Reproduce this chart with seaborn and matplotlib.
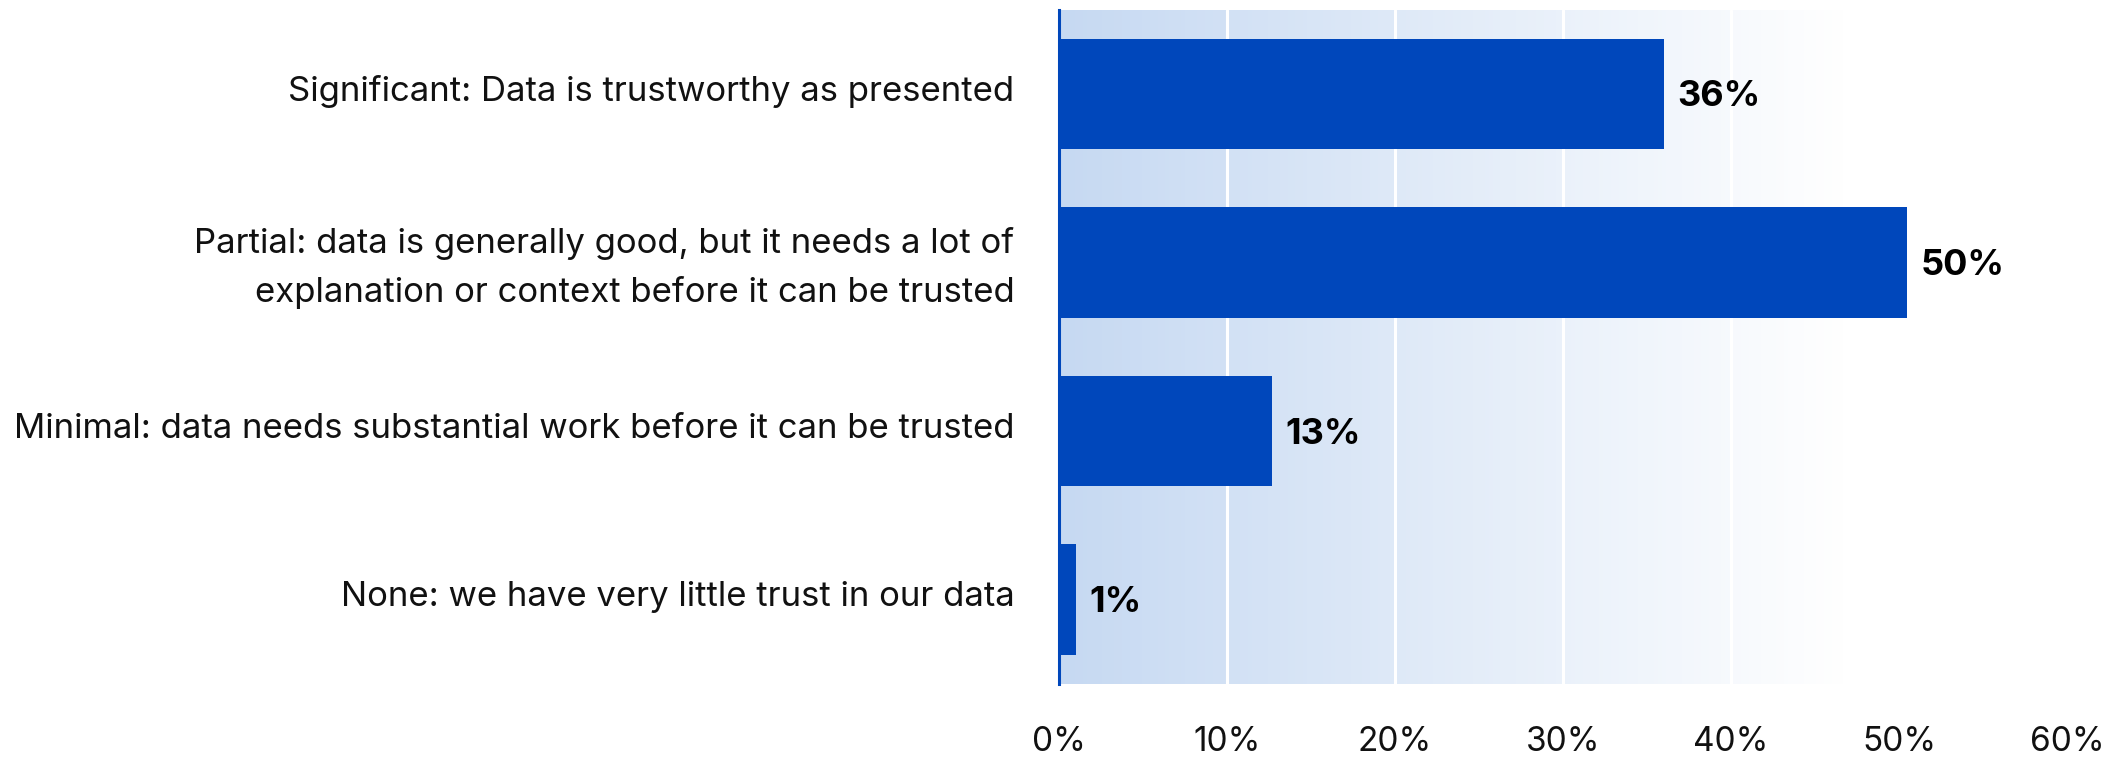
import numpy as np
import pandas as pd
import matplotlib
matplotlib.use('Agg')
import matplotlib.pyplot as plt
import matplotlib.transforms as mtransforms
from matplotlib.colors import LinearSegmentedColormap
import seaborn as sns

# 数据
categories = [
    'Significant: Data is trustworthy as presented',
    'Partial: data is generally good, but it needs a lot of\nexplanation or context before it can be trusted',
    'Minimal: data needs substantial work before it can be trusted',
    'None: we have very little trust in our data',
]
values = [36.0, 50.5, 12.7, 1.0]
value_labels = ['36%', '50%', '13%', '1%']
x_ticks = [0, 10, 20, 30, 40, 50, 60]
x_tick_labels = ['0%', '10%', '20%', '30%', '40%', '50%', '60%']

sns.set_theme(style='white')
plt.rcParams['font.family'] = ['Inter', 'DejaVu Sans']

bar_color = '#0047BB'
df = pd.DataFrame({'category': categories, 'value': values})

fig = plt.figure(figsize=(21.2, 7.62), dpi=100)
ax = fig.add_axes([0.4995, 0.1024, 0.4755, 0.8851])

# 背景渐变
grad_cmap = LinearSegmentedColormap.from_list(
    'bg', [(0, '#c6d9f2'), (0.78, '#ffffff'), (1, '#ffffff')])
grad = np.linspace(0, 1, 256).reshape(1, -1)
ax.imshow(grad, cmap=grad_cmap, aspect='auto', extent=(0, 60, 3.5, -0.5), zorder=0)

sns.barplot(data=df, x='value', y='category', orient='h', color=bar_color,
            saturation=1, width=0.656, ax=ax, zorder=3, edgecolor='none')

ax.set_xlim(0, 60)
ax.set_ylim(3.5, -0.5)

for x in x_ticks[1:-1]:
    ax.axvline(x, color='white', lw=2.2, zorder=1)

down = mtransforms.offset_copy(ax.transData, fig=fig, x=0, y=-3, units='dots')
for i, (v, lab) in enumerate(zip(values, value_labels)):
    ax.text(v + 0.8, i, lab, va='center', ha='left', fontsize=26,
            fontweight='bold', color='black', zorder=4, transform=down)

ax.set_xticks(x_ticks)
ax.set_xticklabels(x_tick_labels, fontsize=24, color='#111111')
ax.tick_params(axis='x', length=0, pad=30)
ax.tick_params(axis='y', length=0, pad=32, labelsize=25, labelcolor='#111111')
up = mtransforms.ScaledTranslation(0, 6 / 100, fig.dpi_scale_trans)
for t in ax.get_yticklabels():
    t.set_linespacing(1.62)
    t.set_ha('right')
    t.set_transform(t.get_transform() + up)

ax.set_xlabel('')
ax.set_ylabel('')
for s in ['top', 'right', 'bottom']:
    ax.spines[s].set_visible(False)
ax.spines['left'].set_color(bar_color)
ax.spines['left'].set_linewidth(2.2)
ax.spines['left'].set_zorder(5)
ax.grid(False)

fig.savefig('out.png', dpi=100)
